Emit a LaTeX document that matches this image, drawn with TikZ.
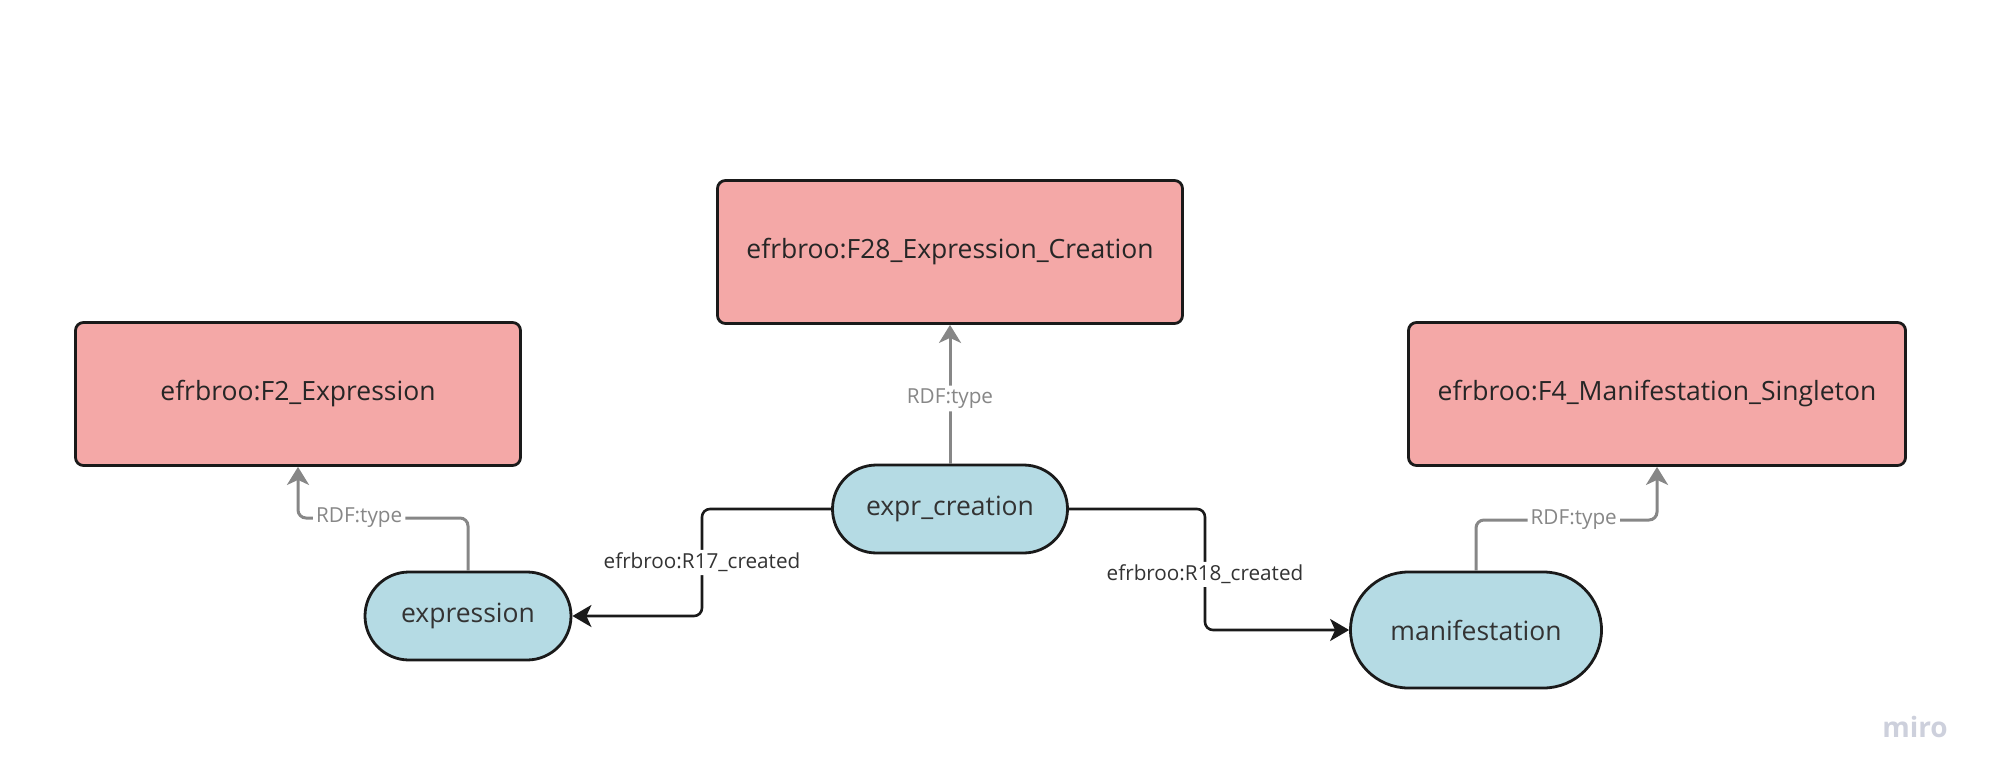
\documentclass[tikz,border=0pt]{standalone}
\usepackage{fontspec}
\setmainfont{Open Sans}
\usetikzlibrary{arrows.meta}

\definecolor{clsfill}{HTML}{F4A8A7}
\definecolor{insfill}{HTML}{B5DBE4}
\definecolor{edgeline}{HTML}{1A1A1A}
\definecolor{typeline}{HTML}{878787}
\definecolor{mirogray}{HTML}{CDD0DC}

\begin{document}
\begin{tikzpicture}[x=1pt,y=-1pt,
  cls/.style={rectangle,draw=edgeline,line width=2.8pt,fill=clsfill,rounded corners=8pt,minimum height=143pt,inner sep=0pt,text=black!85,font=\fontsize{26.5}{32}\selectfont},
  ins/.style={rectangle,draw=edgeline,line width=2.8pt,fill=insfill,inner sep=0pt,text=black!80,font=\fontsize{26.5}{32}\selectfont},
  rel/.style={draw=edgeline,line width=2.6pt,rounded corners=8pt,-{Stealth[length=19pt,width=22pt,inset=5pt]}},
  typ/.style={draw=typeline,line width=3pt,rounded corners=8pt,-{Stealth[length=18pt,width=22pt,inset=5pt]}},
  lbl/.style={fill=white,inner sep=3pt,text=black!80,font=\fontsize{20.7}{24}\selectfont}
]
\useasboundingbox (0,0) rectangle (1993,783);

\node[cls,minimum width=465pt] (f28) at (950,252) {efrbroo:F28\_Expression\_Creation};
\node[cls,minimum width=445pt] (f2) at (298,394) {efrbroo:F2\_Expression};
\node[cls,minimum width=497pt] (f4) at (1657,394) {efrbroo:F4\_Manifestation\_Singleton};

\node[ins,minimum width=235pt,minimum height=88pt,rounded corners=44pt] (ecr) at (950,509) {expr\_creation};
\node[ins,minimum width=206pt,minimum height=88pt,rounded corners=44pt] (exp) at (468,616) {expression};
\node[ins,minimum width=251pt,minimum height=116pt,rounded corners=58pt] (man) at (1476,630) {manifestation};

\coordinate (k1) at (702,509);
\coordinate (k2) at (1205,509);
\coordinate (k3) at (468,518);
\coordinate (k4) at (1476,520);

\draw[rel] (ecr.west) -- (k1) |- node[pos=0.25,lbl]{efrbroo:R17\_created} (exp.east);
\draw[rel] (ecr.east) -- (k2) |- node[pos=0.27,lbl]{efrbroo:R18\_created} (man.west);

\draw[typ] (ecr.north) -- node[pos=0.47,lbl,text=typeline]{RDF:type} (f28.south);
\draw[typ] (exp.north) -- (k3) -| node[pos=0.32,lbl,text=typeline]{RDF:type} (f2.south);
\draw[typ] (man.north) -- (k4) -| node[pos=0.27,lbl,text=typeline]{RDF:type} (f4.south);

\node[text=mirogray,font=\fontsize{28}{30}\selectfont\bfseries] (miro) at (1915,727) {miro};

\end{tikzpicture}
\end{document}
